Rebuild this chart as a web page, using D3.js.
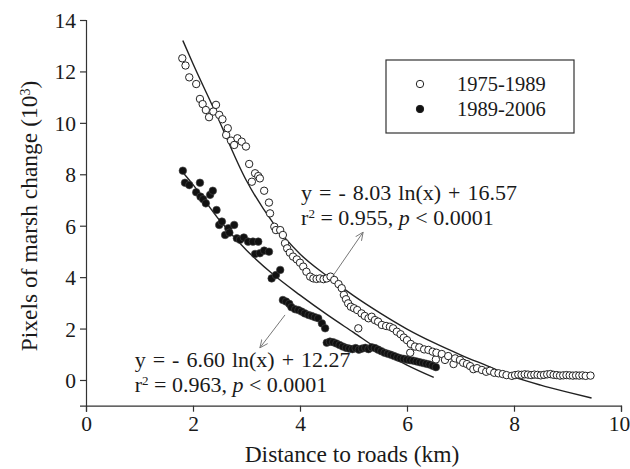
<!DOCTYPE html>
<html>
<head>
<meta charset="utf-8">
<script src="https://cdn.jsdelivr.net/npm/d3@7"></script>
<style>
  body { margin: 0; background: #fff; }
  text { font-family: "Liberation Serif", "Times New Roman", serif; fill: #1a1a1a; }
</style>
</head>
<body>
<div id="chart"></div>
<script>
// 1975-1989 (open circles)
var oldX = [1.80,1.86,1.93,2.06,2.13,2.18,2.24,2.30,2.38,2.43,2.49,2.55,2.62,2.65,2.71,2.77,2.83,2.91,2.99,3.05,3.10,3.16,3.22,3.25,3.33,3.42,3.44,3.52,3.55,3.63,3.68,3.72,3.76,3.81,3.87,3.94,4.00,4.06,4.12,4.19,4.25,4.31,4.37,4.44,4.50,4.57,4.64,4.72,4.78,4.82,4.86,4.90,4.95,5.01,5.07,5.09,5.15,5.21,5.28,5.34,5.40,5.46,5.53,5.61,5.68,5.74,5.81,5.88,5.94,6.00,6.06,6.07,6.15,6.23,6.32,6.40,6.48,6.54,6.55,6.65,6.71,6.77,6.87,6.90,6.99,7.05,7.12,7.18,7.24,7.31,7.40,7.48,7.55,7.63,7.71,7.79,7.86,7.96,8.02,8.08,8.14,8.20,8.26,8.32,8.38,8.44,8.50,8.56,8.62,8.68,8.74,8.80,8.86,8.92,8.98,9.04,9.10,9.16,9.22,9.28,9.34,9.43];
var oldY = [12.51,12.23,11.77,11.51,10.93,10.73,10.50,10.22,10.44,10.70,10.31,10.14,9.53,9.79,9.31,9.14,9.40,9.27,9.08,8.40,7.71,8.04,7.93,7.84,7.36,6.90,6.48,5.96,5.83,5.83,5.64,5.32,5.12,4.95,4.80,4.69,4.56,4.41,4.21,4.02,3.95,3.93,3.95,3.92,3.95,4.02,3.89,3.73,3.57,3.31,3.14,2.98,2.85,2.79,2.72,2.01,2.59,2.49,2.40,2.46,2.33,2.27,2.14,2.10,2.07,2.01,1.88,1.78,1.65,1.55,1.06,1.40,1.30,1.27,1.19,1.17,1.10,0.80,1.06,1.01,0.78,0.93,0.62,0.84,0.78,0.67,0.62,0.54,0.42,0.46,0.39,0.32,0.36,0.28,0.26,0.23,0.19,0.16,0.19,0.21,0.20,0.22,0.21,0.19,0.21,0.20,0.18,0.20,0.22,0.23,0.20,0.19,0.17,0.18,0.19,0.18,0.17,0.18,0.17,0.18,0.16,0.17,0.16,0.17,0.16,0.17];

// 1989-2006 (filled circles)
var newX = [1.81,1.85,1.93,2.06,2.13,2.14,2.19,2.24,2.32,2.37,2.44,2.49,2.54,2.60,2.66,2.68,2.77,2.82,2.88,2.95,3.03,3.12,3.16,3.22,3.25,3.33,3.42,3.47,3.55,3.63,3.68,3.74,3.80,3.84,3.91,3.97,4.03,4.09,4.16,4.22,4.28,4.34,4.41,4.47,4.50,4.56,4.62,4.68,4.74,4.80,4.86,4.92,4.98,5.04,5.10,5.16,5.22,5.28,5.34,5.40,5.46,5.52,5.58,5.64,5.70,5.76,5.82,5.88,5.94,6.00,6.06,6.12,6.18,6.24,6.30,6.36,6.42,6.48,6.54];
var newY = [8.14,7.67,7.58,7.30,7.67,7.13,7.03,6.87,7.20,7.36,6.61,6.03,6.16,5.64,5.90,5.73,6.03,5.51,5.45,5.54,5.38,5.38,4.90,5.38,4.93,5.03,4.99,3.95,4.08,4.28,3.11,3.05,2.96,2.83,2.75,2.72,2.66,2.59,2.53,2.49,2.44,2.40,2.20,2.01,1.45,1.49,1.47,1.42,1.36,1.30,1.25,1.22,1.20,1.24,1.18,1.22,1.25,1.20,1.27,1.24,1.18,1.12,1.06,1.02,0.98,0.93,0.88,0.84,0.82,0.79,0.77,0.75,0.72,0.69,0.66,0.63,0.60,0.55,0.50];

// fitted curves as drawn in the figure
var fitOldX = [1.81,2.0,2.4,3.0,3.5,4.0,4.5,5.0,5.5,6.0,6.5,7.0,7.5,8.0,8.5,9.0,9.45];
var fitOldY = [13.2,12.3,10.5,7.75,6.1,4.9,4.05,3.28,2.6,1.98,1.45,0.98,0.55,0.12,-0.2,-0.47,-0.7];
var fitNewX = [1.8,2.0,2.5,3.0,3.5,4.0,4.5,5.0,5.5,6.0,6.5];
var fitNewY = [8.1,7.6,6.2,5.05,4.1,3.3,2.55,1.85,1.15,0.58,0.1];

var xTicks = [0,2,4,6,8,10];
var yTicks = [0,2,4,6,8,10,12,14];
var seriesNames = ["1975-1989","1989-2006"];

var W = 630, H = 469;
var x = d3.scaleLinear().domain([0,10]).range([86,621]);
var y = d3.scaleLinear().domain([-1,14]).range([405.7,20]);

var svg = d3.select("#chart").append("svg")
    .attr("width", W)
    .attr("height", H);

// axes
var xAxis = svg.append("g")
    .attr("transform", "translate(0," + y(-1) + ")")
    .call(d3.axisBottom(x).tickValues(xTicks).tickSizeOuter(0).tickSize(6).tickPadding(4));
var yAxis = svg.append("g")
    .attr("transform", "translate(" + x(0) + ",0)")
    .call(d3.axisLeft(y).tickValues(yTicks).tickSizeOuter(0).tickSize(6).tickPadding(4));

[xAxis, yAxis].forEach(function(a){
    a.selectAll("path, line").attr("stroke", "#333").attr("stroke-width", 1.2);
    a.selectAll("text")
        .attr("font-family", "Liberation Serif, serif")
        .attr("font-size", 21.5)
        .attr("fill", "#1a1a1a");
});
yAxis.selectAll("text").attr("dy", "0.35em");
// last label sits at the window edge
xAxis.selectAll(".tick text").filter(function(d){ return d === 10; }).attr("dx", -2);

// axis titles
svg.append("text")
    .attr("x", 352).attr("y", 462)
    .attr("text-anchor", "middle")
    .attr("font-size", 23.5)
    .text("Distance to roads (km)");

var yt = svg.append("text")
    .attr("transform", "translate(37,216) rotate(-90)")
    .attr("text-anchor", "middle")
    .attr("font-size", 23.5)
    .text("Pixels of marsh change (10");
yt.append("tspan").attr("baseline-shift", "super").attr("font-size", 14).text("3");
yt.append("tspan").text(")");

// fit lines
var line = d3.line()
    .x(function(d){ return x(d[0]); })
    .y(function(d){ return y(d[1]); })
    .curve(d3.curveMonotoneX);

svg.append("path")
    .datum(d3.zip(fitOldX, fitOldY))
    .attr("d", line)
    .attr("fill", "none").attr("stroke", "#222").attr("stroke-width", 1.4);
svg.append("path")
    .datum(d3.zip(fitNewX, fitNewY))
    .attr("d", line)
    .attr("fill", "none").attr("stroke", "#222").attr("stroke-width", 1.4);

// points
svg.append("g").selectAll("circle")
    .data(d3.zip(oldX, oldY))
    .enter().append("circle")
    .attr("cx", function(d){ return x(d[0]); })
    .attr("cy", function(d){ return y(d[1]); })
    .attr("r", 3.7)
    .attr("fill", "#fff")
    .attr("stroke", "#222")
    .attr("stroke-width", 1);

svg.append("g").selectAll("circle")
    .data(d3.zip(newX, newY))
    .enter().append("circle")
    .attr("cx", function(d){ return x(d[0]); })
    .attr("cy", function(d){ return y(d[1]); })
    .attr("r", 3.8)
    .attr("fill", "#111")
    .attr("stroke", "#444")
    .attr("stroke-width", 0.6);

// legend
var lg = svg.append("g");
lg.append("rect")
    .attr("x", 386).attr("y", 60).attr("width", 188).attr("height", 73)
    .attr("fill", "#fff").attr("stroke", "#333").attr("stroke-width", 1.2);
seriesNames.forEach(function(name, i){
    lg.append("circle")
        .attr("cx", 420).attr("cy", 84 + i * 25)
        .attr("r", 3.7)
        .attr("fill", i === 0 ? "#fff" : "#111")
        .attr("stroke", "#222").attr("stroke-width", 1);
    lg.append("text")
        .attr("x", 457).attr("y", 84 + i * 25)
        .attr("dy", "0.35em")
        .attr("font-size", 20.5)
        .text(name);
});

// annotations
var defs = svg.append("defs");
defs.append("marker")
    .attr("id", "arr")
    .attr("viewBox", "0 0 10 10")
    .attr("refX", 9).attr("refY", 5)
    .attr("markerWidth", 9).attr("markerHeight", 9)
    .attr("orient", "auto")
    .append("path")
    .attr("d", "M0,1 L9,5 L0,9")
    .attr("fill", "none").attr("stroke", "#777").attr("stroke-width", 1);

function arrow(x1, y1, x2, y2) {
    svg.append("line")
        .attr("x1", x(x1)).attr("y1", y(y1))
        .attr("x2", x(x2)).attr("y2", y(y2))
        .attr("stroke", "#777").attr("stroke-width", 1)
        .attr("marker-end", "url(#arr)");
}
arrow(4.6, 4.0, 5.18, 5.75);
arrow(3.72, 2.53, 3.25, 1.25);

function label(x0, y0, eq, r2) {
    svg.append("text")
        .attr("x", x(x0)).attr("y", y(y0))
        .attr("font-size", 22)
        .attr("word-spacing", 1.5)
        .text(eq);
    var t = svg.append("text")
        .attr("x", x(x0)).attr("y", y(y0) + 25)
        .attr("font-size", 22)
        .text("r");
    t.append("tspan").attr("baseline-shift", "super").attr("font-size", 13).text("2");
    t.append("tspan").text(" = " + r2 + ", ");
    t.append("tspan").attr("font-style", "italic").text("p");
    t.append("tspan").text(" < 0.0001");
}
label(4.02, 7.0, "y = - 8.03 ln(x) + 16.57", "0.955");
label(0.91, 0.51, "y = - 6.60 ln(x) + 12.27", "0.963");
</script>
</body>
</html>
